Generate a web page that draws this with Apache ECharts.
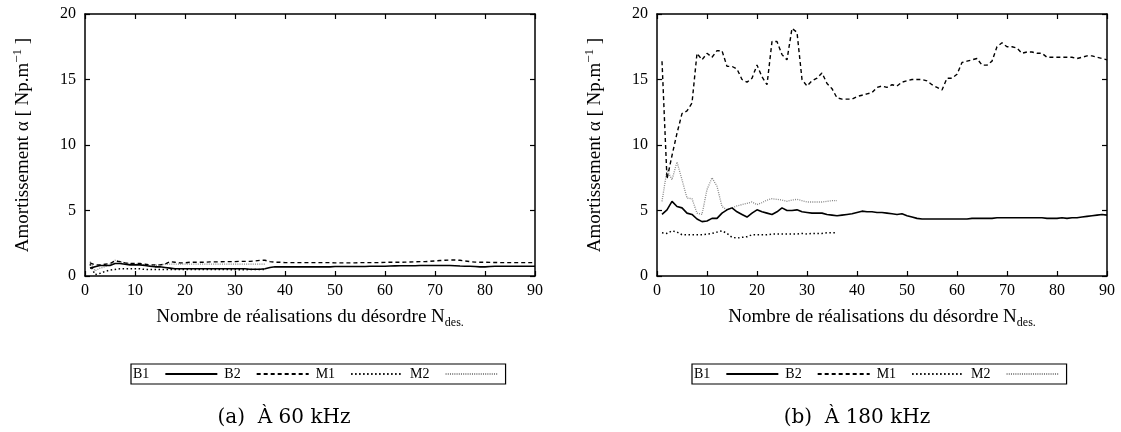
<!DOCTYPE html>
<html lang="fr">
<head>
    <meta charset="UTF-8">
    <script src="https://cdn.jsdelivr.net/npm/echarts@6/dist/echarts.min.js"></script>
    <title>Amortissement</title>
    <style>
        body { margin: 0; background: #fff; }
        #chart { width: 1121px; height: 432px; }
    </style>
</head>
<body>
<div id="chart"></div>
<script type="text/javascript">
    var seriesNames = ['B1', 'B2', 'M1', 'M2'];
    var captions = ['(a)  À 60 kHz', '(b)  À 180 kHz'];

    // (a) 60 kHz, N = 1..90 (M1, M2 : N = 1..36)
    var b1_60k = [0.6, 0.7, 0.8, 0.8, 0.8, 0.95, 0.95, 0.9, 0.85, 0.85,
        0.85, 0.8, 0.75, 0.7, 0.7, 0.65, 0.6, 0.55, 0.55, 0.55,
        0.55, 0.55, 0.55, 0.55, 0.55, 0.55, 0.55, 0.55, 0.55, 0.55,
        0.55, 0.55, 0.52, 0.52, 0.52, 0.55, 0.65, 0.7, 0.7, 0.7,
        0.7, 0.7, 0.7, 0.7, 0.7, 0.7, 0.7, 0.7, 0.7, 0.72,
        0.72, 0.72, 0.72, 0.72, 0.72, 0.73, 0.74, 0.75, 0.75, 0.75,
        0.76, 0.77, 0.78, 0.78, 0.78, 0.78, 0.8, 0.8, 0.8, 0.8,
        0.8, 0.8, 0.8, 0.78, 0.76, 0.75, 0.74, 0.72, 0.7, 0.7,
        0.72, 0.74, 0.75, 0.75, 0.75, 0.75, 0.75, 0.75, 0.75, 0.75];
    var b2_60k = [1.0, 0.85, 0.85, 0.9, 0.95, 1.15, 1.1, 1.0, 0.95, 0.95,
        0.95, 0.9, 0.85, 0.85, 0.85, 0.9, 1.1, 1.05, 1.0, 1.0,
        1.05, 1.05, 1.05, 1.05, 1.08, 1.08, 1.08, 1.1, 1.1, 1.1,
        1.12, 1.12, 1.12, 1.15, 1.2, 1.2, 1.1, 1.05, 1.05, 1.02,
        1.02, 1.02, 1.02, 1.02, 1.02, 1.02, 1.02, 1.02, 1.02, 1.0,
        1.0, 1.0, 1.0, 1.0, 1.02, 1.02, 1.02, 1.02, 1.02, 1.04,
        1.05, 1.05, 1.05, 1.06, 1.07, 1.08, 1.1, 1.1, 1.12, 1.15,
        1.18, 1.2, 1.22, 1.22, 1.2, 1.15, 1.1, 1.06, 1.05, 1.05,
        1.04, 1.03, 1.02, 1.02, 1.02, 1.02, 1.02, 1.02, 1.02, 1.02];
    var m1_60k = [0.9, 0.1, 0.2, 0.35, 0.45, 0.5, 0.55, 0.55, 0.55, 0.55,
        0.55, 0.5, 0.5, 0.5, 0.5, 0.5, 0.5, 0.5, 0.5, 0.5,
        0.5, 0.5, 0.5, 0.5, 0.5, 0.5, 0.5, 0.5, 0.48, 0.48,
        0.48, 0.48, 0.5, 0.5, 0.5, 0.5];
    var m2_60k = [1.1, 0.4, 0.6, 0.7, 0.9, 1.2, 1.1, 1.0, 0.95, 0.9,
        0.9, 0.85, 0.8, 0.8, 0.85, 0.9, 0.9, 0.9, 0.9, 0.9,
        0.9, 0.9, 0.9, 0.9, 0.9, 0.9, 0.9, 0.9, 0.9, 0.9,
        0.9, 0.9, 0.9, 0.9, 0.9, 0.9];

    // (b) 180 kHz
    var b1_180k = [4.7, 5.05, 5.7, 5.3, 5.2, 4.8, 4.7, 4.35, 4.15, 4.2,
        4.4, 4.4, 4.8, 5.05, 5.2, 4.9, 4.7, 4.5, 4.8, 5.05,
        4.9, 4.8, 4.7, 4.9, 5.2, 5.0, 5.0, 5.05, 4.9, 4.85,
        4.8, 4.8, 4.8, 4.7, 4.65, 4.6, 4.65, 4.7, 4.75, 4.85,
        4.95, 4.9, 4.9, 4.85, 4.85, 4.8, 4.75, 4.7, 4.75, 4.6,
        4.5, 4.4, 4.35, 4.35, 4.35, 4.35, 4.35, 4.35, 4.35, 4.35,
        4.35, 4.35, 4.4, 4.4, 4.4, 4.4, 4.4, 4.45, 4.45, 4.45,
        4.45, 4.45, 4.45, 4.45, 4.45, 4.45, 4.45, 4.4, 4.4, 4.4,
        4.45, 4.4, 4.45, 4.45, 4.5, 4.55, 4.6, 4.65, 4.7, 4.65];
    var b2_180k = [16.4, 7.4, 9.2, 10.9, 12.4, 12.6, 13.2, 17.0, 16.5, 17.0,
        16.7, 17.2, 17.2, 16.0, 16.0, 15.8, 15.0, 14.8, 15.1, 16.1,
        15.2, 14.6, 17.9, 17.9, 16.9, 16.5, 18.9, 18.6, 15.0, 14.5,
        14.9, 15.1, 15.5, 14.7, 14.3, 13.6, 13.5, 13.5, 13.5, 13.7,
        13.8, 13.9, 14.0, 14.4, 14.5, 14.4, 14.6, 14.5, 14.8, 14.9,
        15.0, 15.0, 15.0, 14.9, 14.6, 14.4, 14.2, 15.1, 15.1, 15.4,
        16.3, 16.4, 16.5, 16.6, 16.1, 16.1, 16.4, 17.5, 17.8, 17.5,
        17.5, 17.4, 17.0, 17.1, 17.1, 17.0, 17.0, 16.7, 16.7, 16.7,
        16.7, 16.7, 16.7, 16.6, 16.7, 16.8, 16.8, 16.7, 16.6, 16.5];
    var m1_180k = [3.3, 3.25, 3.45, 3.35, 3.15, 3.15, 3.15, 3.15, 3.15, 3.2,
        3.25, 3.35, 3.45, 3.25, 2.95, 2.9, 2.95, 3.0, 3.15, 3.15,
        3.15, 3.15, 3.2, 3.2, 3.2, 3.2, 3.2, 3.2, 3.25, 3.2,
        3.25, 3.25, 3.25, 3.3, 3.3, 3.3];
    var m2_180k = [5.7, 8.1, 7.35, 8.7, 7.35, 5.95, 5.9, 4.8, 4.7, 6.6,
        7.5, 6.85, 5.3, 5.05, 5.2, 5.35, 5.45, 5.55, 5.65, 5.45,
        5.6, 5.8, 5.9, 5.85, 5.8, 5.7, 5.8, 5.85, 5.75, 5.65,
        5.65, 5.65, 5.65, 5.7, 5.75, 5.75];

    var font = '"Liberation Serif", "DejaVu Serif", serif';

    function pairs(arr) {
        var d = [];
        for (var i = 0; i < arr.length; i++) {
            d.push([i + 1, arr[i]]);
        }
        return d;
    }

    var lineStyles = {
        B1: { color: '#000', width: 1.6, type: 'solid' },
        B2: { color: '#000', width: 1.4, type: [4, 3] },
        M1: { color: '#000', width: 1.5, type: [1.5, 2.5] },
        M2: { color: '#888', width: 1.3, type: [1, 1.2] }
    };

    function xAx(grid, mirror) {
        return {
            type: 'value', gridIndex: grid, min: 0, max: 90, interval: 10,
            position: mirror ? 'top' : 'bottom',
            name: mirror ? '' : '{a|Nombre de réalisations du désordre N}{s|des.}',
            nameLocation: 'middle', nameGap: 30,
            nameTextStyle: {
                rich: {
                    a: { fontFamily: font, fontSize: 19, color: '#000' },
                    s: { fontFamily: font, fontSize: 12, color: '#000', padding: [11, 0, 0, 0] }
                }
            },
            splitLine: { show: false },
            axisLine: { onZero: false, lineStyle: { color: '#000', width: 1.5 } },
            axisTick: { inside: true, length: 5, lineStyle: { color: '#000', width: 1.2 } },
            axisLabel: { show: !mirror, margin: 7, color: '#000', fontFamily: font, fontSize: 16 }
        };
    }

    function yAx(grid, mirror) {
        return {
            type: 'value', gridIndex: grid, min: 0, max: 20, interval: 5,
            position: mirror ? 'right' : 'left',
            name: mirror ? '' : '{a|Amortissement α [ Np.m}{s|−1}{a| ]}',
            nameLocation: 'middle', nameGap: 49,
            nameTextStyle: {
                rich: {
                    a: { fontFamily: font, fontSize: 19, color: '#000' },
                    s: { fontFamily: font, fontSize: 13, color: '#000', padding: [0, 0, 12, 0] }
                }
            },
            splitLine: { show: false },
            axisLine: { onZero: false, lineStyle: { color: '#000', width: 1.5 } },
            axisTick: { inside: true, length: 5, lineStyle: { color: '#000', width: 1.2 } },
            axisLabel: { show: !mirror, margin: 9, color: '#000', fontFamily: font, fontSize: 16 }
        };
    }

    function makeSeries(name, arr, grid) {
        return {
            name: name, type: 'line', xAxisIndex: grid * 2, yAxisIndex: grid * 2,
            data: pairs(arr), symbol: 'none', showSymbol: false,
            lineStyle: lineStyles[name], itemStyle: { color: lineStyles[name].color },
            z: name == 'M2' ? 1 : 3
        };
    }

    function legendBox(left) {
        return {
            left: left, top: 364, orient: 'horizontal', align: 'right',
            data: seriesNames, selectedMode: false,
            itemWidth: 52, itemHeight: 10, itemGap: 6,
            padding: [3, 7, 3, 2],
            borderColor: '#000', borderWidth: 1.2,
            itemStyle: { opacity: 0 },
            textStyle: { fontFamily: font, fontSize: 14, color: '#000', padding: [0, 11, 0, 0] }
        };
    }

    var myChart = echarts.init(document.getElementById('chart'));
    var option = {
        animation: false,
        backgroundColor: '#fff',
        grid: [
            { left: 85, top: 14, width: 450, height: 262 },
            { left: 657, top: 14, width: 450, height: 262 }
        ],
        xAxis: [xAx(0, false), xAx(0, true), xAx(1, false), xAx(1, true)],
        yAxis: [yAx(0, false), yAx(0, true), yAx(1, false), yAx(1, true)],
        legend: [legendBox(131), legendBox(692)],
        graphic: [
            { type: 'text', x: 284, y: 418, style: { text: captions[0], font: '20px "DejaVu Serif", serif', fill: '#000', textAlign: 'center', textVerticalAlign: 'middle' } },
            { type: 'text', x: 857, y: 418, style: { text: captions[1], font: '20px "DejaVu Serif", serif', fill: '#000', textAlign: 'center', textVerticalAlign: 'middle' } }
        ],
        series: [
            makeSeries('B1', b1_60k, 0),
            makeSeries('B2', b2_60k, 0),
            makeSeries('M1', m1_60k, 0),
            makeSeries('M2', m2_60k, 0),
            makeSeries('B1', b1_180k, 1),
            makeSeries('B2', b2_180k, 1),
            makeSeries('M1', m1_180k, 1),
            makeSeries('M2', m2_180k, 1)
        ]
    };
    myChart.setOption(option);
</script>
</body>
</html>
